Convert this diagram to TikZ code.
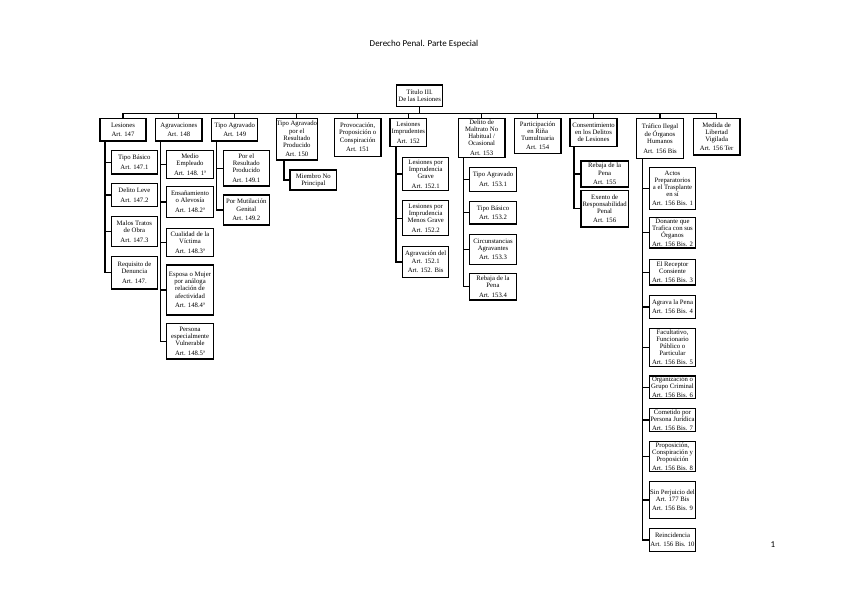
\documentclass[tikz,border=0pt]{standalone}
\usepackage{fontspec}
\setmainfont{Liberation Serif}
\newfontfamily\titlefont{Carlito}
\tikzset{
  bx/.style={draw, line width=1.4pt, align=center, inner sep=0.3pt,
    font=\fontsize{6.7}{7.1}\selectfont},
  ln/.style={line width=1.2pt}
}
\newcommand\mkbox[6]{\node[bx, minimum width={#4pt-#2pt}, minimum height={#5pt-#3pt}] (#1) at ({(#2+#4)/2},{(#3+#5)/2}) {#6};}
\newcommand\mkspine[3]{\foreach \k in {#3} {\draw[ln] (#1.south -| #2,0) |- (\k.west);}}
\begin{document}
\begin{tikzpicture}[x=1pt,y=-1pt]
\useasboundingbox (0,0) rectangle (848,599);
\node[font=\titlefont\fontsize{9}{10}\selectfont] (title) at (424,44) {Derecho Penal. Parte Especial};
\node[font=\titlefont\fontsize{9}{10}\selectfont] (pnum) at (773,545) {1};

% root and first level
\mkbox{root}{396.7}{85}{442.7}{106.7}{Título III.\\De las Lesiones}
\mkbox{les}{100}{118.3}{146}{141}{Lesiones\\[2.5pt]Art. 147}
\mkbox{agr}{155.7}{118.3}{202}{141}{Agravaciones\\[2.5pt]Art. 148}
\mkbox{tag}{211.7}{118.3}{257.7}{141}{Tipo Agravado\\[2.5pt]Art. 149}
\mkbox{tar}{278.3}{118.3}{315.3}{160}{Tipo Agravado\\por el\\Resultado\\Producido\\[2.5pt]Art. 150}
\mkbox{pro}{334.3}{118.3}{381}{156.7}{Provocación,\\Proposición o\\Conspiración\\[2.5pt]Art. 151}
\mkbox{lim}{390}{118.3}{426.7}{146.7}{Lesiones\\Imprudentes\\[2.5pt]Art. 152}
\mkbox{dm}{458.3}{118.3}{505}{157.3}{Delito de\\Maltrato No\\Habitual /\\Ocasional\\[2.5pt]Art. 153}
\mkbox{par}{514.3}{118.3}{561}{153.3}{Participación\\en Riña\\Tumultuaria\\[2.5pt]Art. 154}
\mkbox{con}{570}{118.3}{617}{146.7}{Consentimiento\\en los Delitos\\de Lesiones}
\mkbox{tra}{636.7}{118.3}{683.3}{158.3}{Tráfico Ilegal\\de Órganos\\Humanos\\[2.5pt]Art. 156 Bis}
\mkbox{med}{693.3}{118.3}{740}{155}{Medida de\\Libertad\\Vigilada\\[2.5pt]Art. 156 Ter}

% Lesiones
\mkbox{l1}{111.3}{150.7}{157.5}{174}{Tipo Básico\\[2.5pt]Art. 147.1}
\mkbox{l2}{111.3}{183.3}{157.5}{206.7}{Delito Leve\\[2.5pt]Art. 147.2}
\mkbox{l3}{111.3}{216.7}{157.5}{246.7}{Malos Tratos\\de Obra\\[2.5pt]Art. 147.3}
\mkbox{l4}{111.3}{256.7}{157.5}{289}{Requisito de\\Denuncia\\[2.5pt]Art. 147.}

% Agravaciones
\mkbox{a1}{166.7}{150.7}{213.3}{178.3}{Medio\\Empleado\\[2.5pt]Art. 148. 1ª}
\mkbox{a2}{166.7}{186.7}{213.3}{217.3}{Ensañamiento\\o Alevosía\\[2.5pt]Art. 148.2ª}
\mkbox{a3}{166.7}{228.3}{213.3}{256.7}{Cualidad de la\\Víctima\\[2.5pt]Art. 148.3ª}
\mkbox{a4}{166.7}{265}{213.3}{315}{Esposa o Mujer\\por análoga\\relación de\\afectividad\\[2.5pt]Art. 148.4ª}
\mkbox{a5}{166.7}{323.3}{213.3}{359}{Persona\\especialmente\\Vulnerable\\[2.5pt]Art. 148.5ª}

% Tipo Agravado 149
\mkbox{t1}{223.3}{150.7}{269.3}{186}{Por el\\Resultado\\Producido\\[2.5pt]Art. 149.1}
\mkbox{t2}{223.3}{195}{269.3}{225}{Por Mutilación\\Genital\\[2.5pt]Art. 149.2}

% 150
\mkbox{m1}{290}{170}{336.7}{190}{Miembro No\\Principal}

% 152
\mkbox{i1}{402.7}{157.3}{448.7}{190.7}{Lesiones por\\Imprudencia\\Grave\\[2.5pt]Art. 152.1}
\mkbox{i2}{402.7}{200.7}{448.7}{235.7}{Lesiones por\\Imprudencia\\Menos Grave\\[2.5pt]Art. 152.2}
\mkbox{i3}{402.7}{246.7}{448.7}{277.3}{Agravación del\\Art. 152.1\\[2.5pt]Art. 152. Bis}

% 153
\mkbox{d1}{469.5}{167.3}{516.5}{191.5}{Tipo Agravado\\[2.5pt]Art. 153.1}
\mkbox{d2}{469.5}{201.5}{516.5}{224}{Tipo Básico\\[2.5pt]Art. 153.2}
\mkbox{d3}{469.5}{234.3}{516.5}{264.3}{Circunstancias\\Agravantes\\[2.5pt]Art. 153.3}
\mkbox{d4}{469.5}{273.3}{516.5}{300}{Rebaja de la\\Pena\\[2.5pt]Art. 153.4}

% Consentimiento
\mkbox{c1}{581}{161}{628.3}{187}{Rebaja de la\\Pena\\[2.5pt]Art. 155}
\mkbox{c2}{581}{190.5}{628.3}{227}{Exento de\\Responsabilidad\\Penal\\[2.5pt]Art. 156}

% Trafico
\mkbox{r1}{649.3}{167.3}{695.7}{209.3}{Actos\\Preparatorios\\a el Trasplante\\en sí\\[2pt]Art. 156 Bis. 1}
\mkbox{r2}{649.3}{217.3}{695.7}{248}{Donante que\\Trafica con sus\\Órganos\\[2pt]Art. 156 Bis. 2}
\mkbox{r3}{649.3}{259.3}{695.7}{285}{El Receptor\\Consiente\\[2pt]Art. 156 Bis. 3}
\mkbox{r4}{649.3}{295.7}{695.7}{318.3}{Agrava la Pena\\[2pt]Art. 156 Bis. 4}
\mkbox{r5}{649.3}{328.3}{695.7}{366.7}{Facultativo,\\Funcionario\\Público o\\Particular\\[2pt]Art. 156 Bis. 5}
\mkbox{r6}{649.3}{376}{695.7}{398.3}{Organización o\\Grupo Criminal\\[2pt]Art. 156 Bis. 6}
\mkbox{r7}{649.3}{408.3}{695.7}{431.7}{Cometido por\\Persona Jurídica\\[2pt]Art. 156 Bis. 7}
\mkbox{r8}{649.3}{441.7}{695.7}{471.7}{Proposición,\\Conspiración y\\Proposición\\[2pt]Art. 156 Bis. 8}
\mkbox{r9}{649.3}{481.7}{695.7}{518.3}{Sin Perjuicio del\\Art. 177 Bis\\[2pt]Art. 156 Bis. 9}
\mkbox{r10}{649.3}{528.3}{695.7}{551.7}{Reincidencia\\[2pt]Art. 156 Bis. 10}

% bus
\coordinate (bus) at (0,113.3);
\draw[ln] (root.south) -- (root.south |- bus);
\draw[ln] (les.north) |- (bus -| med.north) -- (med.north);
\foreach \n in {agr,tag,tar,pro,lim,dm,par,con,tra}
  \draw[ln] (\n.north) -- (\n.north |- bus);

% spines
\mkspine{les}{105}{l1,l2,l3,l4}
\mkspine{agr}{160.7}{a1,a2,a3,a4,a5}
\mkspine{tag}{216.7}{t1,t2}
\mkspine{tar}{284}{m1}
\mkspine{lim}{396}{i1,i2,i3}
\mkspine{dm}{463.3}{d1,d2,d3,d4}
\mkspine{con}{574}{c1,c2}
\mkspine{tra}{642.7}{r1,r2,r3,r4,r5,r6,r7,r8,r9,r10}
\end{tikzpicture}
\end{document}
